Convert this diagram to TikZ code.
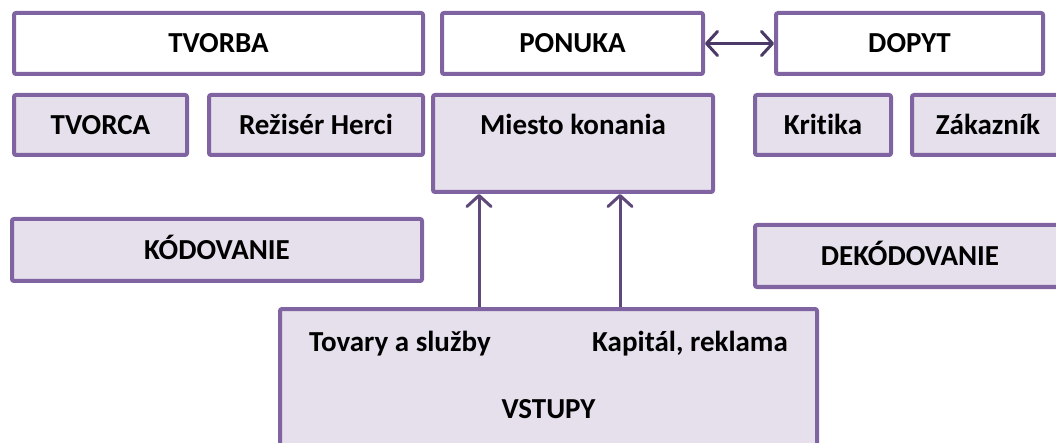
\documentclass[tikz,border=0pt]{standalone}
\usepackage{fontspec}
\setmainfont{Carlito}[Ligatures=NoCommon]
\usetikzlibrary{arrows.meta}
\definecolor{boxline}{HTML}{8064A2}
\definecolor{boxfill}{HTML}{E5E0EC}
\definecolor{arrowline}{HTML}{5F497A}
\definecolor{arrowdark}{HTML}{4B3A68}
\begin{document}
\begin{tikzpicture}[x=1pt,y=-1pt,
  labelfont/.style={font=\fontsize{29}{34}\selectfont\bfseries},
  box/.style={draw=boxline, line width=4pt, rounded corners=2pt, fill=boxfill,
    inner sep=0pt, labelfont, text height=18.5pt, text depth=0pt, align=center},
  topbox/.style={box, fill=white},
  lbl/.style={labelfont, inner sep=0pt},
  barb/.tip={Straight Barb[length=11pt,width=24pt,line width=3pt,round]},
  link/.style={draw=arrowline, line width=3pt, -barb},
  twoway/.style={draw=arrowdark, line width=3pt, barb-barb},
]
\useasboundingbox (0,0) rectangle (1056,443);
\clip (0,0) rectangle (1056,443);

% top row
\node[topbox, minimum width=409pt, minimum height=61pt] (tvorba) at (218.5,43.5) {TVORBA};
\node[topbox, minimum width=261pt, minimum height=61pt] (ponuka) at (572.5,43.5) {PONUKA};
\node[topbox, minimum width=267pt, minimum height=61pt] (dopyt) at (909.5,43.5) {DOPYT};

% second row
\node[box, minimum width=173pt, minimum height=60pt] (tvorca) at (100.5,125) {TVORCA};
\node[box, minimum width=214pt, minimum height=60pt] (rezia) at (316,125) {Režisér Herci};
\node[box, minimum width=280pt, minimum height=97pt] (miesto) at (573,143.5) {};
\node[lbl, anchor=base] (miestoT) at (573,135) {Miesto konania};
\node[box, minimum width=136pt, minimum height=60pt] (kritika) at (823,125) {Kritika};
\node[box, minimum width=152pt, minimum height=60pt] (zakaznik) at (988,125) {Zákazník};

% coding / decoding
\node[box, minimum width=410pt, minimum height=62pt] (kodovanie) at (217,250) {KÓDOVANIE};
\node[box, minimum width=310pt, minimum height=62pt] (dekodovanie) at (910,256) {DEKÓDOVANIE};

% inputs
\node[box, minimum width=537pt, minimum height=161pt] (vstupy) at (548.5,389.5) {};
\node[lbl, anchor=base west] (tovary) at (309,351) {Tovary a služby};
\node[lbl, anchor=base east] (kapital) at (788,351) {Kapitál, reklama};
\node[lbl, anchor=base] (vstupyT) at (548.5,418) {VSTUPY};

% connectors
\coordinate (a1) at (479,0);
\coordinate (a2) at (620,0);
\draw[link] (vstupy.north -| a1) -- (miesto.south -| a1);
\draw[link] (vstupy.north -| a2) -- (miesto.south -| a2);
\draw[twoway] (ponuka.east) -- (dopyt.west);
\end{tikzpicture}
\end{document}
